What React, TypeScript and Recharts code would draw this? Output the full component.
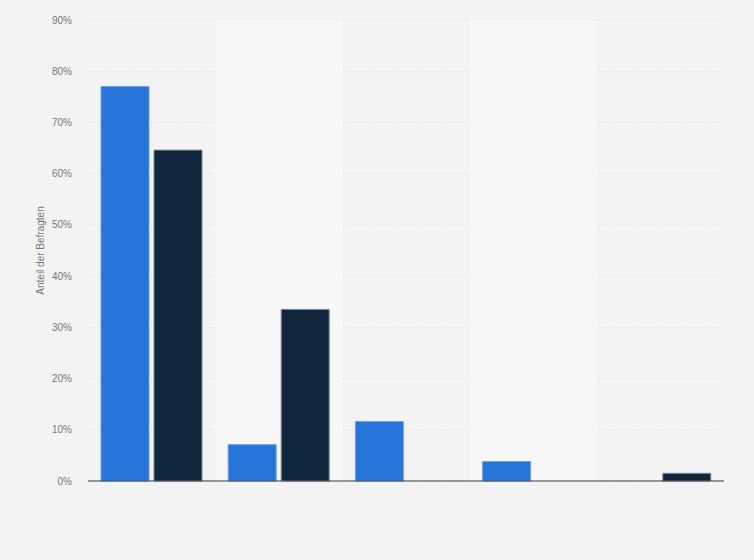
import React from "react";
import { BarChart, Bar, XAxis, YAxis, CartesianGrid, ReferenceArea, Label } from "recharts";

const kategorien = ["Kategorie 1", "Kategorie 2", "Kategorie 3", "Kategorie 4", "Kategorie 5"];
const serie1 = [77, 7.1, 11.6, 3.8, 0];
const serie2 = [64.6, 33.5, 0, 0, 1.5];
const yTicks = [0, 10, 20, 30, 40, 50, 60, 70, 80, 90];
const helleBaender = ["Kategorie 2", "Kategorie 4"];

const daten = kategorien.map((k, i) => ({ name: k, serie1: serie1[i], serie2: serie2[i] }));

const schrift = "Liberation Sans, Arial, sans-serif";

const App = () => {
    return (
        <div style={{ position: "absolute", left: 0, top: 0, width: 754, height: 560, background: "#f3f3f3" }}>
            <BarChart
                width={754}
                height={560}
                data={daten}
                margin={{ top: 20, right: 30, left: 0, bottom: 78 }}
                barCategoryGap={13}
                barGap={5}
            >
                {helleBaender.map(b => (
                    <ReferenceArea key={b} x1={b} x2={b} fill="#f7f7f7" fillOpacity={1} stroke="none" />
                ))}
                <CartesianGrid vertical={false} stroke="#d9d9d9" strokeDasharray="1 2" />
                <XAxis dataKey="name" tick={false} tickLine={false} axisLine={{ stroke: "#3a3a3a", strokeWidth: 1 }} height={1} />
                <YAxis
                    width={88}
                    domain={[0, 90]}
                    ticks={yTicks}
                    interval={0}
                    tickFormatter={(v: number) => `${v}%`}
                    axisLine={false}
                    tickLine={false}
                    tickSize={0}
                    tickMargin={16}
                    tick={{ fontSize: 10, fill: "#777", fontFamily: schrift }}
                >
                    <Label
                        value="Anteil der Befragten"
                        angle={-90}
                        position="center"
                        dx={-4}
                        style={{ fontSize: 10, fill: "#777", fontFamily: schrift, textAnchor: "middle" }}
                    />
                </YAxis>
                <Bar dataKey="serie1" fill="#2775db" stroke="#6aa2eb" strokeWidth={1} isAnimationActive={false} />
                <Bar dataKey="serie2" fill="#0f263d" stroke="#7d8a98" strokeWidth={1} isAnimationActive={false} />
            </BarChart>
        </div>
    );
};

export default App;
